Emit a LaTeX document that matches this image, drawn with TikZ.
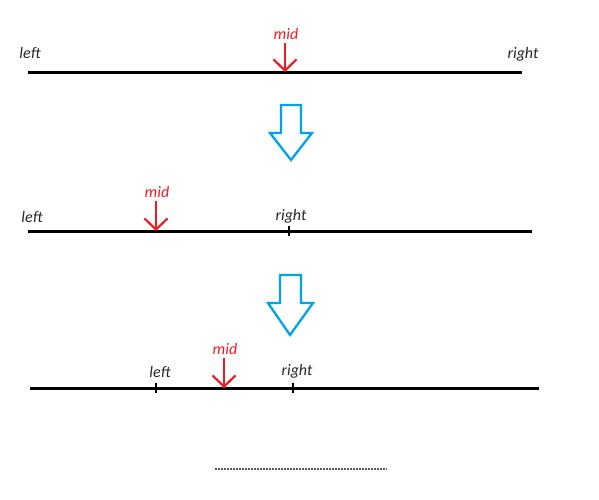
\documentclass[tikz,border=0pt]{standalone}
\usepackage{fontspec}
\setmainfont{Carlito}
\usetikzlibrary{arrows.meta, positioning}
\definecolor{midcolor}{RGB}{237, 28, 36}
\definecolor{stepcolor}{RGB}{0, 162, 232}
\definecolor{dotcolor}{RGB}{90, 90, 90}
\tikzset{
	axis/.style={line width=3pt, color=black},
	tick/.style={line width=2pt, color=black},
	label/.style={font=\fontsize{16}{19}\selectfont\itshape, text=black!85, inner sep=1pt},
	midlabel/.style={font=\fontsize{16}{19}\selectfont\itshape, text=midcolor, inner sep=1pt},
	midarrow/.style={-{Straight Barb[length=11pt, width=23pt]}, line width=2.2pt, color=midcolor, shorten <=2pt},
	bigarrow/.style={line width=2.3pt, color=stepcolor, line join=miter},
	dots/.style={line width=1.4pt, color=dotcolor, dash pattern=on 1.5pt off 1.5pt}
}

\begin{document}
\begin{tikzpicture}[x=1pt, y=-1pt]
		\useasboundingbox (0,0) rectangle (599,499);

		% Row 1
		\coordinate (A1) at (28,72);
		\coordinate (B1) at (522,72);
		\coordinate (M1) at (285,72);
		\node[label] (left1) at (30,53) {left};
		\node[label] (right1) at (523,54) {right};
		\node[midlabel] (mid1) at (286,34) {mid};
		\draw[axis] (A1) -- (B1);
		\draw[midarrow] (mid1.south -| M1) -- (M1);

		% Step arrow
		\coordinate (S1) at (291,105);
		\draw[bigarrow] (S1) ++(-10,0) -- ++(0,28) -- ++(-11,0) -- ++(21,27) -- ++(21,-27) -- ++(-11,0) -- ++(0,-28) -- cycle;

		% Row 2
		\coordinate (A2) at (28,231);
		\coordinate (B2) at (532,231);
		\coordinate (M2) at (156,231);
		\coordinate (R2) at (289,231);
		\node[label] (left2) at (32,217) {left};
		\node[label] (right2) at (291,216) {right};
		\node[midlabel] (mid2) at (157,192) {mid};
		\draw[axis] (A2) -- (B2);
		\draw[tick] ([yshift=-5pt]R2) -- ([yshift=5pt]R2);
		\draw[midarrow] (mid2.south -| M2) -- (M2);

		% Step arrow
		\coordinate (S2) at (290,275);
		\draw[bigarrow] (S2) ++(-10,0) -- ++(0,28) -- ++(-12,0) -- ++(22,32) -- ++(23,-32) -- ++(-12,0) -- ++(0,-28) -- cycle;

		% Row 3
		\coordinate (A3) at (30,388);
		\coordinate (B3) at (539,388);
		\coordinate (L3) at (156,388);
		\coordinate (M3) at (224,388);
		\coordinate (R3) at (293,388);
		\node[label] (left3) at (160,372) {left};
		\node[label] (right3) at (297,371) {right};
		\node[midlabel] (mid3) at (225,349) {mid};
		\draw[axis] (A3) -- (B3);
		\draw[tick] ([yshift=-5pt]L3) -- ([yshift=5pt]L3);
		\draw[tick] ([yshift=-5pt]R3) -- ([yshift=5pt]R3);
		\draw[midarrow] (mid3.south -| M3) -- (M3);

		% Continued
		\coordinate (D1) at (215,469);
		\coordinate (D2) at (387,469);
		\draw[dots] (D1) -- (D2);

\end{tikzpicture}
\end{document}
